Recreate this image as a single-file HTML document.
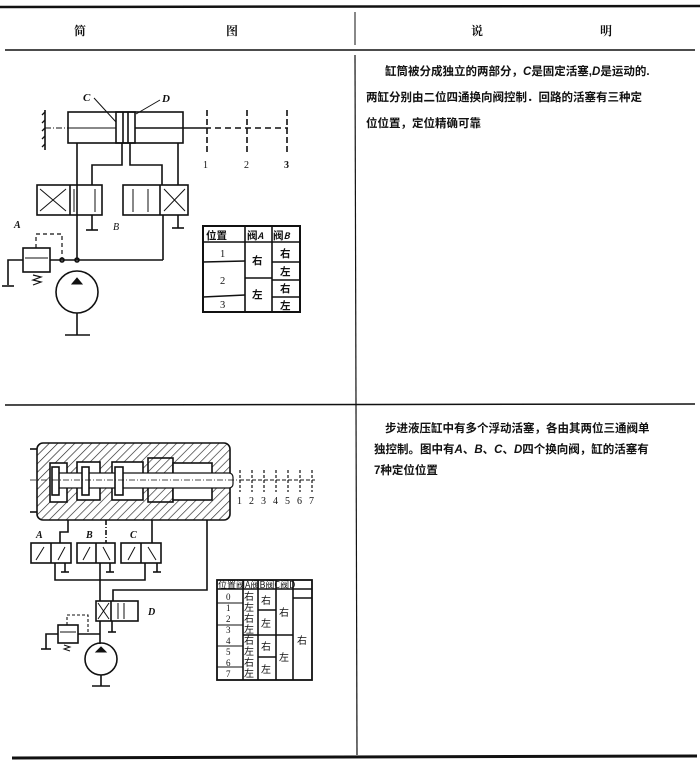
<!DOCTYPE html>
<html><head><meta charset="utf-8"><style>
html,body{margin:0;padding:0;background:#fff;}
body{width:700px;height:768px;position:relative;overflow:hidden;font-family:"Liberation Serif","Noto Serif CJK SC","Noto Sans CJK SC",serif;color:#111;}
.t{position:absolute;font-size:12px;font-weight:bold;white-space:nowrap;}
</style></head><body>
<svg width="700" height="768" style="position:absolute;left:0;top:0" font-family="Liberation Serif, Noto Serif CJK SC, serif">
<defs>
<pattern id="h" width="6" height="6" patternUnits="userSpaceOnUse" patternTransform="rotate(45)">
<rect width="6" height="6" fill="#fff"/><line x1="0" y1="0" x2="0" y2="6" stroke="#222" stroke-width="1.3"/></pattern>
</defs>
<g stroke="#111" fill="none">
<!-- frame -->
<line x1="0" y1="7" x2="700" y2="6" stroke-width="2.5"/>
<line x1="5" y1="50" x2="695" y2="50" stroke-width="1.5"/>
<line x1="355" y1="12" x2="355" y2="45" stroke-width="1"/>
<line x1="355" y1="55" x2="357" y2="755" stroke-width="1.2"/>
<line x1="5" y1="405" x2="695" y2="404" stroke-width="1.5"/>
<line x1="12" y1="758" x2="697" y2="756" stroke-width="3"/>

<!-- TOP DIAGRAM -->
<g stroke-width="1.6">
<rect x="68" y="112" width="115" height="31"/>
<rect x="116" y="112" width="19" height="31"/>
<line x1="123" y1="112" x2="123" y2="143"/><line x1="128" y1="112" x2="128" y2="143"/>
<line x1="68" y1="128" x2="116" y2="128" stroke-width="1"/>
<line x1="135" y1="128" x2="205" y2="128"/>
<line x1="45" y1="128" x2="68" y2="128" stroke-dasharray="6,2,1,2" stroke-width="1"/>
<path d="M45 112 l-3 3 M45 120 l-3 3 M45 128 l-3 3 M45 136 l-3 3 M45 144 l-3 3" stroke-width="1.3"/>
<line x1="45" y1="110" x2="45" y2="150"/>
<line x1="205" y1="128" x2="288" y2="128" stroke-dasharray="6,4"/>
<line x1="207" y1="110" x2="207" y2="155" stroke-dasharray="6,3"/>
<line x1="247" y1="110" x2="247" y2="155" stroke-dasharray="6,3"/>
<line x1="287" y1="110" x2="287" y2="155" stroke-dasharray="6,3"/>
<line x1="94" y1="98" x2="116" y2="122" stroke-width="1"/>
<line x1="160" y1="100" x2="136" y2="114" stroke-width="1"/>
<!-- pipes -->
<polyline points="77,143 77,260"/>
<polyline points="122,143 122,165 92,165 92,185"/>
<polyline points="130,143 130,165 162,165 162,185"/>
<polyline points="178,143 178,185"/>
<rect x="37" y="185" width="65" height="30"/><line x1="70" y1="185" x2="70" y2="215"/>
<path d="M40 189 L66 211 M66 189 L40 211" stroke-width="1"/>
<path d="M74 189 L74 212 M95 189 L95 212" stroke-width="1"/>
<rect x="123" y="185" width="65" height="30"/><line x1="160" y1="185" x2="160" y2="215"/>
<path d="M164 189 L185 211 M185 189 L164 211" stroke-width="1"/>
<path d="M133 189 L133 212 M148 189 L148 212" stroke-width="1"/>
<line x1="92" y1="215" x2="92" y2="230"/><line x1="86" y1="230" x2="98" y2="230"/>
<line x1="178" y1="215" x2="178" y2="228"/><line x1="172" y1="228" x2="184" y2="228"/>
<line x1="163" y1="215" x2="163" y2="260"/>
<line x1="50" y1="260" x2="163" y2="260"/>
<rect x="23" y="248" width="27" height="24"/><line x1="25" y1="258" x2="48" y2="258" stroke-width="1"/>
<polyline points="36,248 36,234 62,234 62,260" stroke-dasharray="4,3" stroke-width="1.2"/>
<circle cx="62" cy="260" r="2"/><circle cx="77" cy="260" r="2"/>
<polyline points="23,260 8,260 8,285"/><line x1="2" y1="286" x2="14" y2="286"/>
<path d="M33 275 l8 2 l-8 3 l8 2 l-8 3" stroke-width="1.2"/>
<circle cx="77" cy="292" r="21"/>
<path d="M72 284 L77 278 L82 284 Z" fill="#111" stroke-width="1"/>
<line x1="77" y1="313" x2="77" y2="335"/><line x1="65" y1="335" x2="90" y2="335"/>
<!-- table -->
<rect x="203" y="226" width="97" height="86" stroke-width="2"/>
<line x1="203" y1="242" x2="300" y2="242"/>
<line x1="245" y1="226" x2="245" y2="312"/><line x1="272" y1="226" x2="272" y2="312"/>
<line x1="272" y1="262" x2="300" y2="262"/><line x1="272" y1="280" x2="300" y2="280"/><line x1="272" y1="297" x2="300" y2="297"/>
<line x1="203" y1="262" x2="245" y2="261"/><line x1="203" y1="297" x2="245" y2="295"/>
<line x1="245" y1="278" x2="272" y2="278"/>
</g>

<!-- BOTTOM DIAGRAM -->
<g stroke-width="1.6">
<rect x="37" y="443" width="193" height="77" rx="6" fill="url(#h)"/>
<rect x="50" y="463" width="17" height="39" fill="#fff"/>
<rect x="77" y="462" width="23" height="38" fill="#fff"/>
<rect x="112" y="462" width="31" height="38" fill="#fff"/>
<rect x="148" y="458" width="25" height="44" fill="url(#h)"/>
<rect x="173" y="463" width="39" height="37" fill="#fff"/>
<rect x="55" y="473" width="178" height="15" rx="4" fill="#fff" stroke-width="1.2"/>
<rect x="52" y="467" width="7" height="28" fill="#fff"/>
<rect x="82" y="467" width="7" height="28" fill="#fff"/>
<rect x="115" y="467" width="8" height="28" fill="#fff"/>
<line x1="30" y1="480" x2="240" y2="480" stroke-dasharray="6,2,1,2" stroke-width="0.8"/>
<line x1="240" y1="480" x2="315" y2="480" stroke-dasharray="4,2" stroke-width="1"/>
<g stroke-dasharray="3,2" stroke-width="1.2">
<line x1="240" y1="470" x2="240" y2="492"/><line x1="252" y1="470" x2="252" y2="492"/>
<line x1="264" y1="470" x2="264" y2="492"/><line x1="276" y1="470" x2="276" y2="492"/>
<line x1="288" y1="470" x2="288" y2="492"/><line x1="300" y1="470" x2="300" y2="492"/>
<line x1="312" y1="470" x2="312" y2="492"/>
</g>
<line x1="30" y1="449" x2="37" y2="449"/><line x1="30" y1="512" x2="37" y2="512"/>
<!-- valves -->
<polyline points="68,520 68,532 60,532 60,543"/>
<line x1="106" y1="520" x2="106" y2="543" stroke-dasharray="5,2,1,2"/>
<line x1="152" y1="520" x2="152" y2="543"/>
<polyline points="207,520 207,590 113,590 113,601"/>
<rect x="31" y="543" width="40" height="20"/><line x1="51" y1="543" x2="51" y2="563"/>
<rect x="77" y="543" width="38" height="20"/><line x1="96" y1="543" x2="96" y2="563"/>
<rect x="121" y="543" width="40" height="20"/><line x1="141" y1="543" x2="141" y2="563"/>
<path d="M36 560 L44 547 M58 560 L65 547 M83 560 L90 547 M103 547 L110 560 M128 560 L135 547 M148 547 L156 560" stroke-width="1"/>
<polyline points="55,563 55,580 145,580 145,563"/>
<line x1="100" y1="563" x2="100" y2="601"/>
<line x1="65" y1="563" x2="65" y2="572"/><line x1="61" y1="572" x2="69" y2="572"/>
<line x1="110" y1="563" x2="110" y2="572"/><line x1="106" y1="572" x2="114" y2="572"/>
<line x1="157" y1="563" x2="157" y2="572"/><line x1="153" y1="572" x2="161" y2="572"/>
<rect x="96" y="601" width="42" height="20"/><line x1="111" y1="601" x2="111" y2="621"/>
<path d="M98 603 L109 619 M109 603 L98 619 M118 603 V619 M124 603 V619" stroke-width="1"/>
<line x1="100" y1="621" x2="100" y2="644"/>
<line x1="112" y1="621" x2="112" y2="632"/><line x1="108" y1="632" x2="116" y2="632"/>
<line x1="78" y1="634" x2="100" y2="634"/>
<rect x="58" y="625" width="20" height="18"/><line x1="60" y1="632" x2="76" y2="632" stroke-width="1"/>
<polyline points="67,625 67,615 88,615 88,634" stroke-dasharray="3,2" stroke-width="1.1"/>
<polyline points="58,634 46,634 46,649"/><line x1="41" y1="649" x2="51" y2="649"/>
<path d="M64 645 l6 2 l-6 2 l6 2" stroke-width="1"/>
<circle cx="101" cy="659" r="16"/>
<path d="M96 652 L101 647 L106 652 Z" fill="#111" stroke-width="1"/>
<line x1="101" y1="675" x2="101" y2="686"/><line x1="92" y1="686" x2="110" y2="686"/>
<!-- table -->
<rect x="217" y="580" width="95" height="100" stroke-width="1.8"/>
<line x1="217" y1="589" x2="312" y2="589"/>
<line x1="243" y1="580" x2="243" y2="680"/><line x1="258" y1="580" x2="258" y2="680"/>
<line x1="276" y1="580" x2="276" y2="680"/><line x1="293" y1="580" x2="293" y2="680"/>
<line x1="217" y1="603" x2="243" y2="603" stroke-width="1"/><line x1="217" y1="625" x2="243" y2="625" stroke-width="1"/>
<line x1="217" y1="646" x2="243" y2="646" stroke-width="1"/><line x1="217" y1="667" x2="243" y2="667" stroke-width="1"/>
<line x1="258" y1="610" x2="276" y2="610"/><line x1="243" y1="635" x2="293" y2="635"/><line x1="258" y1="657" x2="276" y2="657"/>
<line x1="293" y1="598" x2="312" y2="598"/>
</g>
</g>
<g fill="#111" font-weight="bold" font-size="11">
<text x="83" y="101" font-style="italic">C</text><text x="162" y="102" font-style="italic">D</text>
<text x="203" y="168" font-size="10" font-weight="normal">1</text><text x="244" y="168" font-size="10" font-weight="normal">2</text><text x="284" y="168" font-size="10">3</text>
<text x="14" y="228" font-style="italic" font-size="10">A</text><text x="113" y="230" font-style="italic" font-size="10" font-weight="normal">B</text>
<g font-family="Noto Sans CJK SC, sans-serif" font-size="10.5">
<text x="206" y="239">位置</text><text x="247" y="239">阀<tspan font-style="italic" font-size="9">A</tspan></text><text x="273" y="239">阀<tspan font-style="italic" font-size="9">B</tspan></text>
<text x="220" y="257" font-family="Liberation Serif" font-weight="normal">1</text>
<text x="220" y="284" font-family="Liberation Serif" font-weight="normal">2</text>
<text x="220" y="308" font-family="Liberation Serif" font-weight="normal">3</text>
<text x="252" y="264">右</text><text x="252" y="298">左</text>
<text x="280" y="257">右</text><text x="280" y="275">左</text><text x="280" y="292">右</text><text x="280" y="309">左</text>
</g>
<g font-size="10" font-weight="normal">
<text x="237" y="504">1</text><text x="249" y="504">2</text><text x="261" y="504">3</text><text x="273" y="504">4</text><text x="285" y="504">5</text><text x="297" y="504">6</text><text x="309" y="504">7</text>
</g>
<text x="36" y="538" font-style="italic" font-size="10">A</text><text x="86" y="538" font-style="italic" font-size="10">B</text><text x="130" y="538" font-style="italic" font-size="10">C</text>
<text x="148" y="615" font-style="italic" font-size="10">D</text>
<g font-family="Noto Sans CJK SC, sans-serif" font-size="10" font-weight="normal">
<text x="218" y="588" font-size="9">位置阀A阀B阀C阀D</text>
<text x="226" y="600" font-family="Liberation Serif" font-size="9">0</text><text x="244" y="600" font-size="10">右</text>
<text x="226" y="611" font-family="Liberation Serif" font-size="9">1</text><text x="244" y="611">左</text>
<text x="226" y="622" font-family="Liberation Serif" font-size="9">2</text><text x="244" y="622">右</text>
<text x="226" y="633" font-family="Liberation Serif" font-size="9">3</text><text x="244" y="633">左</text>
<text x="226" y="644" font-family="Liberation Serif" font-size="9">4</text><text x="244" y="644">右</text>
<text x="226" y="655" font-family="Liberation Serif" font-size="9">5</text><text x="244" y="655">左</text>
<text x="226" y="666" font-family="Liberation Serif" font-size="9">6</text><text x="244" y="666">右</text>
<text x="226" y="677" font-family="Liberation Serif" font-size="9">7</text><text x="244" y="677">左</text>
<text x="261" y="604">右</text><text x="261" y="627">左</text><text x="261" y="650">右</text><text x="261" y="673">左</text>
<text x="279" y="616">右</text><text x="279" y="661">左</text><text x="297" y="644">右</text>
</g>
</g>
</svg>
<div class="t" style="left:74px;top:22px;">简</div>
<div class="t" style="left:226px;top:22px;">图</div>
<div class="t" style="left:471px;top:22px;">说</div>
<div class="t" style="left:600px;top:22px;">明</div>
<div class="t" style="left:385px;top:63px;font-family:'Liberation Sans','Noto Sans CJK SC',sans-serif;font-size:11.5px;">缸筒被分成独立的两部分，<i>C</i>是固定活塞,<i>D</i>是运动的.</div>
<div class="t" style="left:366px;top:89px;font-family:'Liberation Sans','Noto Sans CJK SC',sans-serif;font-size:11.5px;">两缸分别由二位四通换向阀控制．回路的活塞有三种定</div>
<div class="t" style="left:366px;top:115px;font-family:'Liberation Sans','Noto Sans CJK SC',sans-serif;font-size:11.5px;">位位置，定位精确可靠</div>
<div class="t" style="left:385px;top:420px;font-family:'Liberation Sans','Noto Sans CJK SC',sans-serif;font-size:11.5px;">步进液压缸中有多个浮动活塞，各由其两位三通阀单</div>
<div class="t" style="left:374px;top:441px;font-family:'Liberation Sans','Noto Sans CJK SC',sans-serif;font-size:11.5px;">独控制。图中有<i>A</i>、<i>B</i>、<i>C</i>、<i>D</i>四个换向阀，缸的活塞有</div>
<div class="t" style="left:374px;top:462px;font-family:'Liberation Sans','Noto Sans CJK SC',sans-serif;font-size:11.5px;">7种定位位置</div>
</body></html>
